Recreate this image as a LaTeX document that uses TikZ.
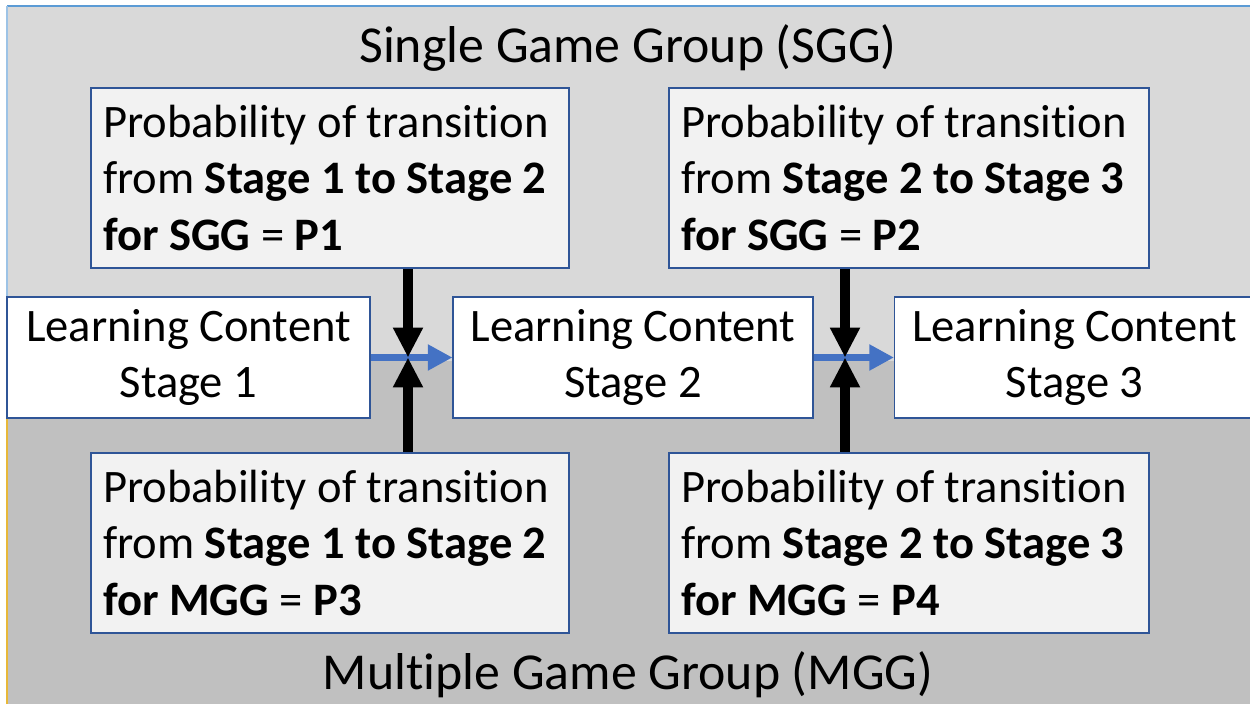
\documentclass[tikz,border=0pt]{standalone}
\usepackage{fontspec}
\setmainfont{Carlito}[Ligatures=NoCommon]
\usetikzlibrary{arrows.meta}

\begin{document}
\begin{tikzpicture}
    % Define colours
    \definecolor{borderColour}{HTML}{2F5597}
    \definecolor{fillColour}{HTML}{F2F2F2}
    \definecolor{arrowColour}{HTML}{4472C4}
    \definecolor{sggColour}{HTML}{D9D9D9}
    \definecolor{mggColour}{HTML}{C0C0C0}
    \definecolor{edgeColour}{HTML}{5B9BD5}
    \definecolor{goldColour}{HTML}{E8B838}

    % Define styles
    \tikzset{
        probbox/.style={draw=borderColour, line width=1.2pt, fill=fillColour,
            minimum width=#1, minimum height=3.6cm, text width=#1-0.48cm,
            inner xsep=0.24cm, align=flush left, font=\fontsize{26.5}{32}\selectfont},
        stagebox/.style={draw=borderColour, line width=0.6pt, fill=white,
            minimum width=#1, minimum height=2.42cm, align=center,
            font=\fontsize{26.5}{32}\selectfont},
        grouplabel/.style={font=\fontsize{29.5}{34}\selectfont},
        pushArrow/.style={line width=5.7pt, -{Triangle[length=17pt,width=16pt]}},
        stepArrow/.style={arrowColour, line width=4pt, -{Triangle[length=14pt,width=14pt]}}
    }

    % Fix the canvas
    \useasboundingbox (0,0) rectangle (25,14.08);

    % Draw group backgrounds
    \fill[sggColour] (0.14,6.86) rectangle (25,13.96);
    \fill[mggColour] (0.14,0) rectangle (25,6.86);
    \draw[edgeColour, line width=1.2pt] (0.14,13.96) -- (25,13.96);
    \draw[edgeColour!60, line width=1pt] (0.14,6.86) -- (0.14,13.96);
    \draw[goldColour, line width=1pt] (0.14,0) -- (0.14,6.86);

    % Group labels
    \node[grouplabel] (sgg) at (12.56,13.12) {Single Game Group (SGG)};
    \node[grouplabel] (mgg) at (12.56,0.58) {Multiple Game Group (MGG)};

    % Learning content stages
    \node[stagebox=7.26cm] (s1) at (3.77,6.93) {Learning Content\\Stage 1};
    \node[stagebox=7.2cm] (s2) at (12.66,6.93) {Learning Content\\Stage 2};
    \node[stagebox=7.2cm] (s3) at (21.49,6.93) {Learning Content\\Stage 3};

    % Transition probabilities
    \node[probbox=9.56cm] (p1) at (6.6,10.52)
        {Probability of transition\\from \textbf{Stage 1 to Stage 2}\\\textbf{for SGG} = \textbf{P1}};
    \node[probbox=9.6cm] (p2) at (18.18,10.52)
        {Probability of transition\\from \textbf{Stage 2 to Stage 3}\\\textbf{for SGG} = \textbf{P2}};
    \node[probbox=9.56cm] (p3) at (6.6,3.22)
        {Probability of transition\\from \textbf{Stage 1 to Stage 2}\\\textbf{for MGG} = \textbf{P3}};
    \node[probbox=9.6cm] (p4) at (18.18,3.22)
        {Probability of transition\\from \textbf{Stage 2 to Stage 3}\\\textbf{for MGG} = \textbf{P4}};

    % Meeting points of the arrows
    \coordinate (m1) at (8.16,6.93);
    \coordinate (m2) at (16.9,6.93);

    % Draw the stage transitions
    \draw[stepArrow] (s1.east) -- (s2.west);
    \draw[stepArrow] (s2.east) -- (s3.west);

    % Draw the probability arrows
    \draw[pushArrow] (p1.south -| m1) -- (m1);
    \draw[pushArrow] (p3.north -| m1) -- (m1);
    \draw[pushArrow] (p2.south -| m2) -- (m2);
    \draw[pushArrow] (p4.north -| m2) -- (m2);

\end{tikzpicture}
\end{document}
